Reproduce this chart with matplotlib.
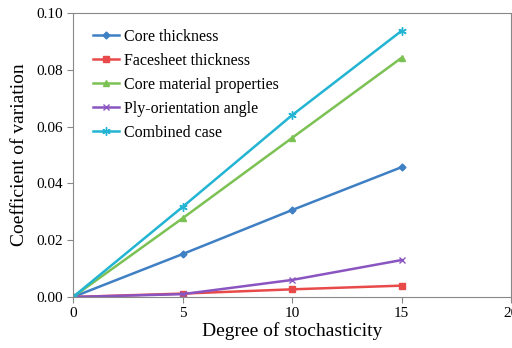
import matplotlib.pyplot as plt

plt.rcParams['font.family'] = ['Liberation Serif', 'DejaVu Serif']

degree = [0, 5, 10, 15]
core_thickness = [0.0, 0.0151, 0.0306, 0.0457]
facesheet_thickness = [0.0, 0.0012, 0.0027, 0.0040]
core_material = [0.0, 0.0277, 0.0560, 0.0842]
ply_angle = [0.0, 0.0010, 0.0060, 0.0130]
combined = [0.0, 0.0317, 0.0640, 0.0937]

fig = plt.figure(figsize=(5.12, 3.48), dpi=100)
ax = fig.add_axes([73 / 512, 51 / 348, 438 / 512, 284 / 348])

ax.plot(degree, core_thickness, color='#3f7fc4', marker='D', markersize=3.5,
        linewidth=1.8, label='Core thickness')
ax.plot(degree, facesheet_thickness, color='#e84a4a', marker='s', markersize=5,
        linewidth=1.8, label='Facesheet thickness')
ax.plot(degree, core_material, color='#7cc154', marker='^', markersize=5,
        linewidth=1.8, label='Core material properties')
ax.plot(degree, ply_angle, color='#8a55c0', marker='x', markersize=5,
        linewidth=1.8, label='Ply-orientation angle')
ax.plot(degree, combined, color='#22b4d2', marker=(6, 2, 0), markersize=6,
        linewidth=1.8, label='Combined case')

ax.set_xlim(0, 20)
ax.set_ylim(0, 0.10)
ax.set_xticks([0, 5, 10, 15, 20])
ax.set_yticks([0, 0.02, 0.04, 0.06, 0.08, 0.10])
ax.set_yticklabels(['0.00', '0.02', '0.04', '0.06', '0.08', '0.10'])
ax.tick_params(labelsize=11, direction='out', length=4, color='#888888')
for s in ax.spines.values():
    s.set_color('#888888')

ax.set_xlabel('Degree of stochasticity', fontsize=14, labelpad=1)
ax.set_ylabel('Coefficient of variation', fontsize=14, labelpad=6)

ax.legend(loc='upper left', frameon=False, fontsize=11.5, handlelength=1.6,
          handletextpad=0.3, labelspacing=0.5, borderaxespad=0.6,
          bbox_to_anchor=(0.01, 1.0))

fig.savefig('out.png', dpi=100)
